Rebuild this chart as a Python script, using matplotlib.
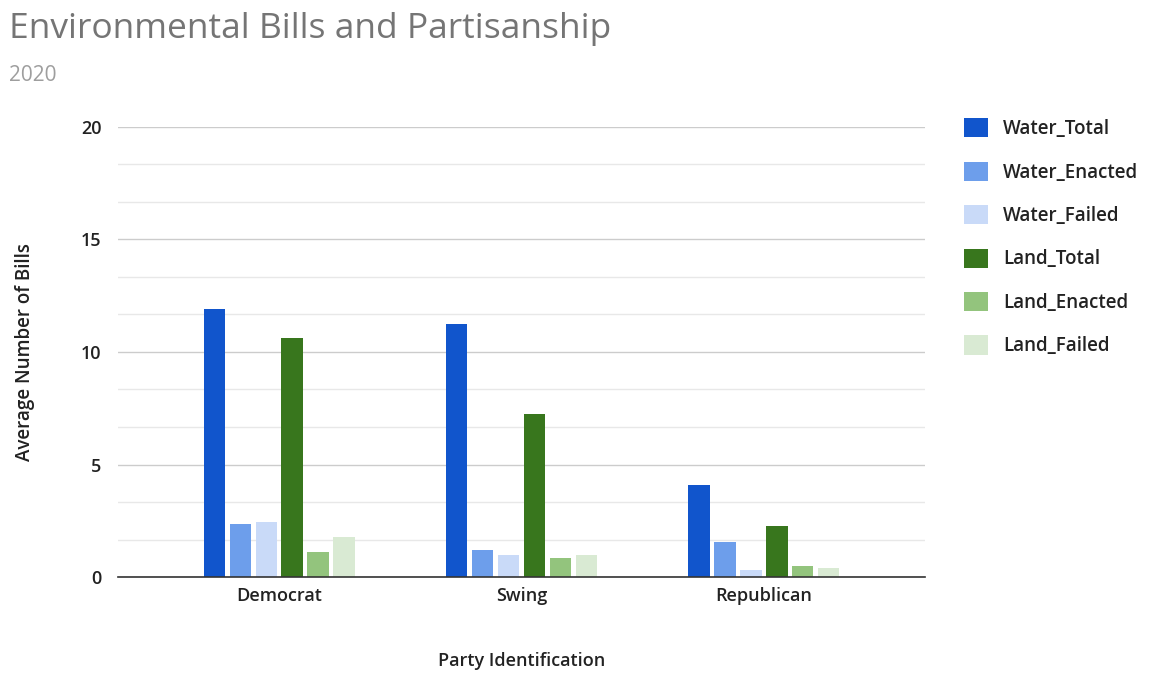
import numpy as np
import matplotlib.pyplot as plt

# Data
parties = ["Democrat", "Swing", "Republican"]
series_names = ["Water_Total", "Water_Enacted", "Water_Failed",
                "Land_Total", "Land_Enacted", "Land_Failed"]
water_total = [11.9, 11.25, 4.1]
water_enacted = [2.35, 1.2, 1.55]
water_failed = [2.45, 1.0, 0.3]
land_total = [10.6, 7.25, 2.25]
land_enacted = [1.1, 0.85, 0.5]
land_failed = [1.8, 1.0, 0.4]

values = [water_total, water_enacted, water_failed,
          land_total, land_enacted, land_failed]
colors = ["#1155cc", "#6d9eeb", "#c9daf8", "#38761d", "#93c47d", "#d9ead3"]

plt.rcParams["font.family"] = ["Open Sans", "DejaVu Sans"]

fig = plt.figure(figsize=(11.72, 6.74), dpi=100)
ax = fig.add_axes([0.1007, 0.1439, 0.6886, 0.6677])

x = np.arange(len(parties))
step = 0.107
width = 0.088
for i, (name, vals, col) in enumerate(zip(series_names, values, colors)):
    offset = (i - 2.5) * step
    ax.bar(x + offset, vals, width, color=col, label=name, zorder=3)

ax.set_xlim(-0.665, 2.665)
ax.set_ylim(0, 20)
ax.set_yticks([0, 5, 10, 15, 20])
ax.set_yticks([v for v in np.arange(0, 20.01, 5 / 3) if round(v, 3) % 5 != 0], minor=True)
ax.grid(axis="y", which="major", color="#cccccc", linewidth=1, zorder=0)
ax.grid(axis="y", which="minor", color="#e8e8e8", linewidth=1, zorder=0)
ax.set_xticks(x)
ax.set_xticklabels(parties, fontsize=13, color="#222222", fontweight="semibold")
ax.tick_params(axis="y", which="both", labelsize=13, labelcolor="#222222", length=0, pad=12)
ax.tick_params(axis="x", length=0, pad=7)
for lbl in ax.get_yticklabels():
    lbl.set_fontweight("semibold")
for side in ["top", "right", "left"]:
    ax.spines[side].set_visible(False)
ax.spines["bottom"].set_color("#333333")
ax.spines["bottom"].set_linewidth(1.2)
ax.spines["bottom"].set_zorder(4)

ax.set_ylabel("Average Number of Bills", fontsize=13.5, color="#222222",
              labelpad=33, fontweight="semibold")
ax.set_xlabel("Party Identification", fontsize=13, color="#222222",
              labelpad=34, fontweight="semibold")

fig.text(0.008, 0.943, "Environmental Bills and Partisanship", fontsize=25.5,
         color="#757575", va="baseline")
fig.text(0.008, 0.88, "2020", fontsize=15, color="#9e9e9e", va="baseline")

leg = ax.legend(loc="upper left", bbox_to_anchor=(1.027, 1.057), frameon=False,
                fontsize=13.5, handlelength=1.3, handleheight=1.2,
                labelspacing=1.2, handletextpad=0.8)
for t in leg.get_texts():
    t.set_color("#222222")
    t.set_fontweight("semibold")

fig.savefig("out.png", dpi=100)
